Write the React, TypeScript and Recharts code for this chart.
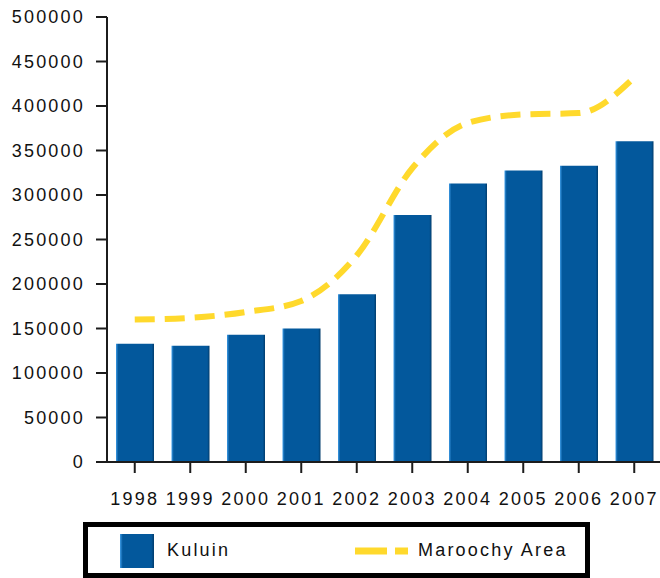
import { ComposedChart, Bar, Line, XAxis, YAxis } from "recharts";

const years = ["1998", "1999", "2000", "2001", "2002", "2003", "2004", "2005", "2006", "2007"];
const kuluin = [133000, 130500, 143000, 150000, 188500, 277500, 313000, 327500, 333000, 360500];
const maroochy = [160000, 162000, 168500, 181000, 232000, 330000, 381000, 390500, 392000, 432000];
const yTicks = [0, 50000, 100000, 150000, 200000, 250000, 300000, 350000, 400000, 450000, 500000];

const data = years.map((year, i) => ({ year, kuluin: kuluin[i], maroochy: maroochy[i] }));

const font = "'Liberation Sans', Arial, sans-serif";
const axisColor = "#1c1c1c";
const yellow = "#FFD92C";
const textStyle = { fill: "#111", fontSize: 18, fontFamily: font, letterSpacing: 2.2 };

export default function App() {
  return (
    <div style={{ position: "absolute", left: 0, top: 0, width: 660, height: 578, overflow: "hidden", background: "#fff", fontFamily: font }}>
      <ComposedChart
        width={662}
        height={578}
        data={data}
        margin={{ top: 17, right: 0, left: 0, bottom: 76 }}
      >
        <defs>
          <linearGradient id="barFill" x1="0" y1="0" x2="1" y2="0">
            <stop offset="0" stopColor="#3d9be6" />
            <stop offset="0.06" stopColor="#03589c" />
            <stop offset="0.94" stopColor="#03589c" />
            <stop offset="1" stopColor="#013c6c" />
          </linearGradient>
        </defs>
        <XAxis
          dataKey="year"
          axisLine={{ stroke: axisColor, strokeWidth: 2 }}
          tickLine={{ stroke: axisColor, strokeWidth: 2 }}
          tickSize={11}
          tickMargin={19}
          height={40}
          interval={0}
          tick={textStyle}
        />
        <YAxis
          domain={[0, 500000]}
          ticks={yTicks}
          width={107}
          axisLine={{ stroke: axisColor, strokeWidth: 2 }}
          tickLine={{ stroke: axisColor, strokeWidth: 2 }}
          tickSize={11}
          tickMargin={11}
          interval={0}
          tick={textStyle}
        />
        <Bar dataKey="kuluin" fill="url(#barFill)" barSize={38} isAnimationActive={false} />
        <Line
          dataKey="maroochy"
          type="monotone"
          stroke={yellow}
          strokeWidth={6}
          strokeDasharray="20 10"
          dot={false}
          activeDot={false}
          isAnimationActive={false}
        />
      </ComposedChart>
      <div
        style={{
          position: "absolute",
          left: 83,
          top: 522,
          width: 507,
          height: 56,
          boxSizing: "border-box",
          border: "5px solid #000",
          fontSize: 18,
          letterSpacing: 2.2,
          color: "#111",
        }}
      >
        <div style={{ position: "absolute", left: 32, top: 7, width: 34, height: 34, background: "linear-gradient(to right, #3d9be6 0%, #03589c 8%, #03589c 92%, #013c6c 100%)" }} />
        <div style={{ position: "absolute", left: 79, top: 13, lineHeight: "20px" }}>Kuluin</div>
        <svg style={{ position: "absolute", left: 267, top: 20 }} width={60} height={10}>
          <line x1={0} y1={4} x2={53} y2={4} stroke={yellow} strokeWidth={7} strokeDasharray="32 8" />
        </svg>
        <div style={{ position: "absolute", left: 330, top: 13, lineHeight: "20px" }}>Maroochy Area</div>
      </div>
    </div>
  );
}
